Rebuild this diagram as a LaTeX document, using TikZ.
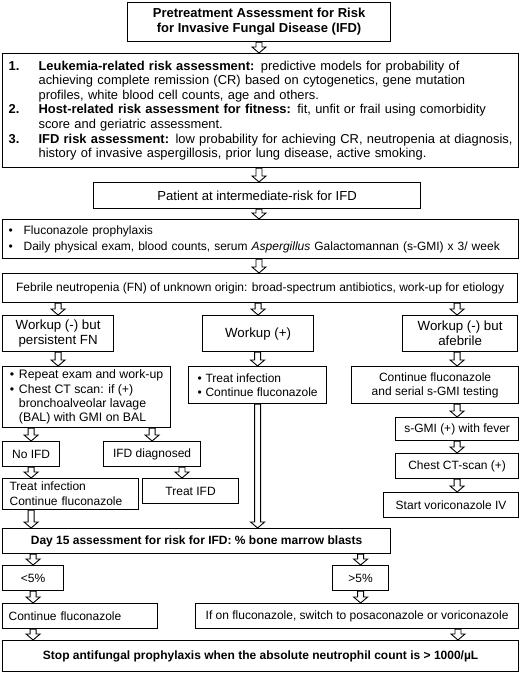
\documentclass[tikz,border=0pt]{standalone}
\usepackage{fontspec}
\setmainfont{Liberation Sans}
\usetikzlibrary{calc}
\tikzset{
  box/.style={draw, line width=1.2pt, fill=white, inner sep=0pt, align=center, anchor=north west, font=\fontsize{12}{15}\selectfont},
  lbox/.style={box, align=left},
  big/.style={font=\fontsize{13.3}{15}\selectfont},
  bold/.style={font=\fontsize{12}{15}\selectfont\bfseries},
  arr/.style={draw, line width=0.9pt, fill=white, line join=miter},
}
\newcommand\barrow[2]{\path[arr] let \p1=#1, \p2=#2 in
  (\x2-3pt,\y1) -- (\x2+3pt,\y1) -- (\x2+3pt,\y2+6pt) -- (\x2+7pt,\y2+6pt) --
  (\x2,\y2) -- (\x2-7pt,\y2+6pt) -- (\x2-3pt,\y2+6pt) -- cycle;}
\newcommand\itm[1]{\makebox[30pt][l]{\textbf{#1}}}
\begin{document}
\begin{tikzpicture}[x=1pt,y=-1pt]
\useasboundingbox[fill=white] (0,0) rectangle (520,673);

\node[box, font=\fontsize{13}{15}\selectfont\bfseries, minimum width=263pt, minimum height=39pt] (title) at (127,2)
  {Pretreatment Assessment for Risk\\for Invasive Fungal Disease (IFD)};

\node[lbox, font=\fontsize{12.9}{14.6}\selectfont, minimum width=516pt, minimum height=114pt, text width=504pt, inner xsep=6pt] (risk) at (2,53)
  {\mbox{\itm{1.}\textbf{Leukemia-related risk assessment:} predictive models for probability of}\\
   \mbox{\hspace*{30pt}achieving complete remission (CR) based on cytogenetics, gene mutation}\\
   \mbox{\hspace*{30pt}profiles, white blood cell counts, age and others.}\\
   \mbox{\itm{2.}\textbf{Host-related risk assessment for fitness:} fit, unfit or frail using comorbidity}\\
   \mbox{\hspace*{30pt}score and geriatric assessment.}\\
   \mbox{\itm{3.}\textbf{IFD risk assessment:} low probability for achieving CR, neutropenia at diagnosis,}\\
   \mbox{\hspace*{30pt}history of invasive aspergillosis, prior lung disease, active smoking.}};

\node[box, font=\fontsize{13.1}{15}\selectfont, minimum width=327pt, minimum height=26pt] (patient) at (93,182)
  {Patient at intermediate-risk for IFD};

\node[lbox, font=\fontsize{12}{16}\selectfont, minimum width=516pt, minimum height=39pt, text width=504pt, inner xsep=6pt] (pro) at (2,219)
  {\mbox{\makebox[15pt][l]{\textbullet}Fluconazole prophylaxis}\\
   \mbox{\makebox[15pt][l]{\textbullet}Daily physical exam, blood counts, serum \textit{Aspergillus} Galactomannan (s-GMI) x 3/ week}};

\node[box, minimum width=515pt, minimum height=29pt] (fn) at (2,273)
  {Febrile neutropenia (FN) of unknown origin: broad-spectrum antibiotics, work-up for etiology};

\node[box, big, minimum width=111pt, minimum height=36pt] (wl) at (2,315) {Workup (-) but\\persistent FN};
\node[box, big, minimum width=111pt, minimum height=36pt] (wm) at (202,315) {Workup (+)};
\node[box, big, minimum width=115pt, minimum height=36pt] (wr) at (402,315) {Workup (-) but\\afebrile};

\node[lbox, font=\fontsize{12.3}{14.3}\selectfont, minimum width=168pt, minimum height=61pt] (bl) at (2,366)
  {\makebox[9pt][l]{\textbullet}Repeat exam and work-up\\
   \makebox[9pt][l]{\textbullet}Chest CT scan: if (+)\\
   \hspace*{9pt}bronchoalveolar lavage\\
   \hspace*{9pt}(BAL) with GMI on BAL};
\node[lbox, font=\fontsize{12}{14}\selectfont, minimum width=138pt, minimum height=37pt] (bm) at (188,366)
  {\makebox[8pt][l]{\textbullet}Treat infection\\
   \makebox[8pt][l]{\textbullet}Continue fluconazole};
\node[box, font=\fontsize{12}{14}\selectfont, minimum width=167pt, minimum height=37pt] (br) at (351,366)
  {Continue fluconazole\\and serial s-GMI testing};

\node[box, minimum width=57pt, minimum height=25pt] (noifd) at (2,441) {No IFD};
\node[box, minimum width=97pt, minimum height=25pt] (ifdd) at (103,441) {IFD diagnosed};
\node[lbox, minimum width=136pt, minimum height=31pt, text width=122pt, inner xsep=7pt] (ti) at (2,478)
  {Treat infection\\Continue fluconazole};
\node[box, minimum width=96pt, minimum height=25pt] (tifd) at (142,478) {Treat IFD};

\node[box, minimum width=123pt, minimum height=23pt] (sgmi) at (395,417) {s-GMI (+) with fever};
\node[box, minimum width=123pt, minimum height=25pt] (ct) at (395,453) {Chest CT-scan (+)};
\node[box, minimum width=135pt, minimum height=25pt] (vori) at (383,492) {Start voriconazole IV};

\node[box, bold, minimum width=388pt, minimum height=25pt] (day) at (2,528)
  {Day 15 assessment for risk for IFD: \% bone marrow blasts};
\node[box, minimum width=61pt, minimum height=25pt] (lt) at (2,565) {<5\%};
\node[box, minimum width=56pt, minimum height=25pt] (gt) at (332,565) {>5\%};
\node[lbox, minimum width=155pt, minimum height=25pt, text width=143pt, inner xsep=6pt] (cf) at (2,603) {Continue fluconazole};
\node[box, minimum width=323pt, minimum height=25pt] (ifon) at (195,603)
  {If on fluconazole, switch to posaconazole or voriconazole};
\node[box, bold, minimum width=516pt, minimum height=31pt] (stop) at (2,640)
  {Stop antifungal prophylaxis when the absolute neutrophil count is > 1000/µL};

\coordinate (cx) at (259,0);
\coordinate (cd) at (182,0);
\coordinate (cs) at (458,0);

\barrow{(title.south)}{(cx |- risk.north)}
\barrow{(risk.south)}{(cx |- patient.north)}
\barrow{(patient.south)}{(cx |- pro.north)}
\barrow{(pro.south)}{(cx |- fn.north)}
\barrow{(fn.south)}{(wl.north)}
\barrow{(fn.south)}{(wm.north)}
\barrow{(fn.south)}{(sgmi.north |- wr.north)}
\barrow{(wl.south)}{(wl.south |- bl.north)}
\barrow{(wm.south)}{(bm.north)}
\barrow{(wr.south)}{(sgmi.north |- br.north)}
\barrow{(bl.south)}{(noifd.north)}
\barrow{(bl.south)}{(ifdd.north)}
\barrow{(noifd.south)}{(noifd.south |- ti.north)}
\barrow{(ifdd.south)}{(cd |- tifd.north)}
\barrow{(ti.south)}{(noifd.south |- day.north)}
\barrow{(bm.south)}{(bm.south |- day.north)}
\barrow{(br.south)}{(sgmi.north)}
\barrow{(sgmi.south)}{(sgmi.south |- ct.north)}
\barrow{(ct.south)}{(sgmi.south |- vori.north)}
\barrow{(day.south)}{(lt.north)}
\barrow{(day.south)}{(gt.north)}
\barrow{(lt.south)}{(lt.south |- cf.north)}
\barrow{(gt.south)}{(gt.south |- ifon.north)}
\barrow{(cf.south)}{(lt.south |- stop.north)}
\barrow{(ifon.south)}{(cs |- stop.north)}
\end{tikzpicture}
\end{document}
